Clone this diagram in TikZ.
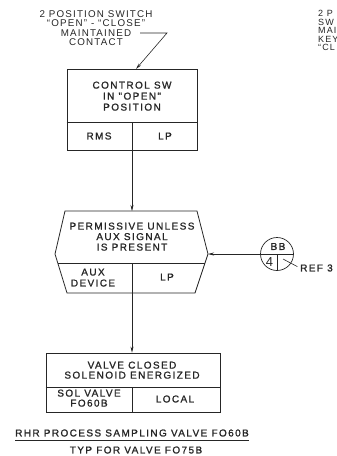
\documentclass[tikz,border=0pt]{standalone}
\usepackage{fontspec}
\newfontfamily\lettering{Liberation Sans}[LetterSpace=14, FakeBold=1.2]
\newfontfamily\thinlettering{Liberation Sans}[LetterSpace=12]
\usetikzlibrary{arrows.meta,positioning,calc}
\definecolor{inkGray}{HTML}{262626}

\tikzset{
  lbl/.style={inner sep=0pt, align=center, text=inkGray, font=\lettering\fontsize{10}{11}\selectfont},
  notelbl/.style={lbl, font=\thinlettering\fontsize{9.8}{9.5}\selectfont},
  outline/.style={draw=inkGray, line width=0.8pt},
  box/.style={outline, inner sep=0pt},
  flow/.style={draw=inkGray, -{Stealth[length=6pt,width=3pt]}, line width=0.6pt},
}

\begin{document}
\begin{tikzpicture}[x=1pt, y=-1pt]
\useasboundingbox (0,0) rectangle (337,456);
% ---------- switch note ----------
\node[notelbl, anchor=north] (swnote) at (96,10.4) {2 POSITION SWITCH\\“OPEN” - “CLOSE”\\MAINTAINED\\CONTACT};
\coordinate (notetail) at (140,33);
\coordinate (notekink) at (167,33);
\coordinate (noteend) at (136,69);
\draw[flow] (notetail) -- (notekink) -- (noteend);
% cut-off note at the right edge
\node[notelbl, anchor=north west, align=left, font=\thinlettering\fontsize{9}{8.5}\selectfont] (keynote) at (318,10.4) {2 P\\SW\\MAI\\KEY\\“CL};
% ---------- control switch ----------
\node[box, minimum width=130, minimum height=81] (ctrl) at (132,109.5) {};
\draw[outline] (ctrl.west |- 0,122) -- (ctrl.east |- 0,122);
\draw[outline] (132,122) -- (ctrl.south);
\node[lbl, anchor=north] (ctrltxt) at (132,81.4) {CONTROL SW\\IN "OPEN"\\POSITION};
\node[lbl] (rms) at (99,136) {RMS};
\node[lbl] (lp1) at (165,136) {LP};
% ---------- permissive ----------
\coordinate (hexN) at (132,211);
\coordinate (hexE) at (208,254);
\coordinate (hexS) at (132,293);
\draw[outline] (65,211) -- (197,211) -- (hexE) -- (195,293) -- (67,293) -- (55,254) -- cycle;
\draw[outline] (57.8,263) -- (205,263);
\draw[outline] (132,263) -- (hexS);
\node[lbl, anchor=north, font=\lettering\fontsize{10}{10.5}\selectfont] (permtxt) at (132,222.4) {PERMISSIVE UNLESS\\AUX SIGNAL\\IS PRESENT};
\node[lbl, anchor=north] (auxdev) at (93,268.4) {AUX\\DEVICE};
\node[lbl] (lp2) at (167,277) {LP};
\draw[flow] (ctrl.south) -- (hexN);
% ---------- reference bubble ----------
\node[draw=inkGray, circle, minimum size=33, inner sep=0pt, line width=0.7pt] (bb) at (277,254) {};
\draw[outline, line width=0.7pt] (bb.west) -- (bb.east);
\draw[outline, line width=0.7pt] (bb.center) -- (bb.south);
\node[lbl] (bbtxt) at (278,246.5) {BB};
\node[lbl, font=\thinlettering\fontsize{13}{13}\selectfont] (sheet) at (269.5,262.5) {4};
\node[lbl, anchor=west] (ref) at (300,268) {REF 3};
\coordinate (refA) at (283,259);
\draw[outline, line width=0.6pt, shorten >=3pt] (refA) -- (ref.west);
\draw[flow] (bb.west) -- (hexE);
% ---------- valve ----------
\node[box, minimum width=174, minimum height=59] (valve) at (133,382.5) {};
\draw[outline] (valve.west |- 0,387) -- (valve.east |- 0,387);
\draw[outline] (132,387) -- (132,412);
\node[lbl, anchor=north, font=\lettering\fontsize{10}{10}\selectfont] (valvetxt) at (132,361.4) {VALVE CLOSED\\SOLENOID ENERGIZED};
\node[lbl, anchor=north, font=\lettering\fontsize{10}{10}\selectfont] (solvalve) at (89,389.4) {SOL VALVE\\FO60B};
\node[lbl] (local) at (175,399) {LOCAL};
\draw[flow] (hexS) -- (hexS |- valve.north);
% ---------- caption ----------
\node[lbl] (title) at (132,433) {RHR PROCESS SAMPLING VALVE FO60B};
\draw[outline, line width=0.6pt] ([yshift=-3.4pt]title.south west) -- ([yshift=-3.4pt]title.south east);
\node[lbl] (typ) at (136,450) {TYP FOR VALVE FO75B};
\end{tikzpicture}
\end{document}
